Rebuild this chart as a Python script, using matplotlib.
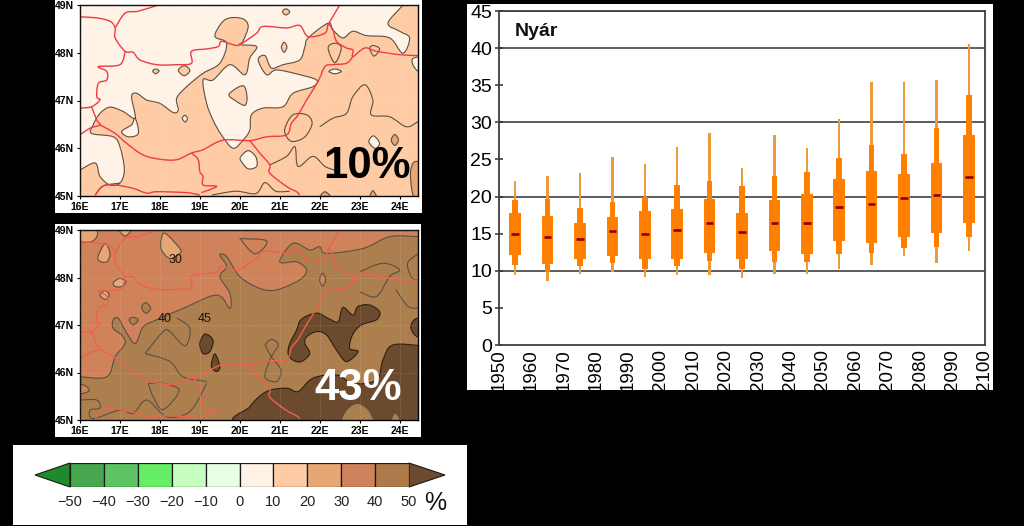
import matplotlib
matplotlib.use("Agg")
import matplotlib.pyplot as plt
from matplotlib.patches import PathPatch, Polygon, Rectangle
from matplotlib.path import Path

plt.rcParams["font.family"] = ["Liberation Sans", "DejaVu Sans"]

W, H = 1024, 526

# boxplot values
years = [1955, 1965, 1975, 1985, 1995, 2005, 2015, 2025,
         2035, 2045, 2055, 2065, 2075, 2085, 2095]
whisker_top = [22.1, 22.8, 23.2, 25.3, 24.4, 26.7, 28.6, 23.9,
               28.3, 26.5, 30.5, 35.4, 35.4, 35.65, 40.5]
mid_top = [19.6, 19.7, 18.5, 19.2, 20.0, 21.6, 22.1, 21.4,
           22.8, 23.3, 25.2, 27.0, 25.7, 29.2, 33.7]
box_top = [17.8, 17.4, 16.4, 17.3, 18.1, 18.3, 19.7, 17.8,
           19.5, 20.3, 22.3, 23.5, 23.1, 24.5, 28.3]
median = [15.0, 14.6, 14.3, 15.3, 14.9, 15.55, 16.45, 15.25,
          16.4, 16.4, 18.65, 19.05, 19.8, 20.15, 22.6]
box_bot = [12.1, 10.9, 11.6, 12.0, 11.6, 11.6, 12.45, 11.6,
           12.6, 12.3, 14.0, 13.7, 14.6, 15.1, 16.4]
mid_bot = [10.8, 9.8, 10.6, 11.1, 10.3, 10.7, 11.3, 10.3,
           11.2, 11.2, 12.3, 12.4, 13.1, 13.2, 14.6]
whisker_bot = [9.4, 8.6, 9.6, 9.9, 9.1, 9.4, 9.4, 9.05,
               9.55, 9.55, 10.2, 10.8, 12.05, 11.1, 12.6]
year_ticks = list(range(1950, 2101, 10))
y_ticks = list(range(0, 46, 5))

# colour bar
cbar_levels = [-50, -40, -30, -20, -10, 0, 10, 20, 30, 40, 50]
cbar_colors = ["#46A84E", "#5CC463", "#66EE66", "#C6FFC0", "#E6FFE6",
               "#FFF2E6", "#FECBA4", "#E6A774", "#D0825A", "#AE7A4A"]
cbar_under = "#1F8A2C"
cbar_over = "#6B4A2E"

# country borders, (lon, lat)
border_north = [(16.0, 48.75), (16.42, 48.73), (16.75, 48.66), (16.88, 48.52), (16.88, 48.31),
                (17.13, 48.03), (17.33, 48.01), (17.5, 47.85), (17.92, 47.75), (18.42, 47.75),
                (18.79, 47.78), (18.79, 48.03), (19.17, 48.08), (19.46, 48.13), (19.54, 48.24),
                (19.83, 48.17), (20.0, 48.17), (20.42, 48.41), (20.58, 48.55), (21.17, 48.52),
                (21.5, 48.57), (21.71, 48.34), (22.13, 48.41), (22.21, 48.59), (22.33, 48.48),
                (22.42, 48.24), (22.67, 48.10), (22.83, 48.06), (22.83, 47.92), (23.13, 48.10),
                (23.42, 48.03), (24.0, 47.96), (24.46, 47.94)]
border_cz = [(16.88, 48.52), (17.13, 48.83), (17.46, 48.87), (17.92, 48.99)]
border_ua = [(22.21, 48.59), (22.5, 49.0)]
border_at = [(17.13, 48.03), (17.0, 47.75), (16.46, 47.71), (16.67, 47.61), (16.67, 47.43),
             (16.46, 47.36), (16.42, 47.08), (16.5, 47.01), (16.29, 46.87), (16.0, 46.84)]
border_si = [(16.29, 46.87), (16.42, 46.59), (16.5, 46.49), (16.25, 46.42), (16.0, 46.28)]
border_south = [(16.5, 46.49), (16.88, 46.31), (17.17, 46.10), (17.58, 45.86), (18.0, 45.77),
                (18.42, 45.76), (18.79, 45.9), (19.08, 45.97), (19.58, 46.17), (20.25, 46.16),
                (20.67, 46.24), (21.17, 46.28), (21.29, 46.52), (21.46, 46.7), (21.67, 47.01),
                (21.96, 47.4), (22.13, 47.71), (22.33, 47.75), (22.67, 47.78), (22.83, 47.92)]
border_hr = [(18.79, 45.9), (18.96, 45.76), (19.0, 45.51), (19.08, 45.41), (19.08, 45.23),
             (19.42, 45.2), (19.04, 45.07)]
border_ba = [(16.38, 45.02), (16.58, 45.21), (16.88, 45.23), (17.33, 45.16), (17.67, 45.06),
             (17.92, 45.09), (18.67, 45.07), (19.0, 45.02)]
border_ro = [(20.25, 46.16), (20.5, 45.9), (20.75, 45.65), (20.75, 45.48), (21.17, 45.2),
             (21.42, 45.09), (21.5, 45.02)]
borders = [border_north, border_cz, border_ua, border_at, border_si,
           border_south, border_hr, border_ba, border_ro]

# upper map: 10-20 % area
top_main = [(16.0, 45.55), (16.38, 45.69), (16.5, 45.41), (16.75, 45.23), (17.0, 45.27), (17.11, 45.55),
            (17.0, 46.03), (16.83, 46.24), (16.29, 46.31), (16.33, 46.49), (16.5, 46.73), (16.75, 46.86),
            (17.08, 46.77), (17.38, 46.63), (17.29, 47.08), (17.42, 47.15), (17.67, 47.01), (18.0, 46.94),
            (18.33, 46.75), (18.46, 46.80), (18.42, 47.05), (18.67, 47.29), (19.08, 47.57), (19.5, 47.78),
            (19.67, 48.20), (19.38, 48.34), (19.54, 48.62), (19.75, 48.73), (20.08, 48.71), (20.21, 48.55),
            (20.08, 48.24), (20.0, 48.17), (20.42, 48.13), (20.25, 47.89), (20.13, 47.54), (19.75, 47.75),
            (19.33, 47.43), (19.08, 47.43), (19.17, 46.94), (19.33, 46.59), (19.54, 46.28), (19.83, 46.0),
            (20.08, 46.17), (20.25, 46.38), (20.29, 46.70), (20.58, 46.84), (21.08, 46.87), (21.33, 47.15),
            (21.83, 47.29), (21.92, 47.43), (21.5, 47.54), (20.92, 47.64), (20.67, 47.54), (20.46, 47.85),
            (20.63, 47.94), (20.79, 47.68), (21.08, 47.75), (21.5, 47.85), (21.63, 48.13), (21.71, 48.31),
            (22.21, 48.62), (22.33, 48.48), (22.58, 48.31), (22.83, 48.45), (23.17, 48.36), (23.75, 48.31),
            (24.08, 47.99), (24.25, 48.31), (24.0, 48.45), (23.71, 48.62), (24.08, 49.0), (24.08, 49.1),
            (24.6, 49.1), (24.6, 49.1), (24.6, 44.9), (24.6, 44.9), (15.9, 44.9), (15.9, 44.9), (15.9, 45.55)]
top_light = [
    [(17.04, 46.35), (17.29, 46.49), (17.38, 46.63), (17.46, 46.31), (17.21, 46.24)],
    [(20.02, 45.82), (20.21, 45.95), (20.4, 45.82), (20.42, 45.62), (20.21, 45.57), (20.04, 45.72)],
    [(23.23, 46.14), (23.35, 46.26), (23.5, 46.1), (23.38, 46.0)],
    [(18.56, 46.63), (18.63, 46.69), (18.69, 46.62), (18.63, 46.55)],
    [(22.23, 47.61), (22.38, 47.66), (22.54, 47.61), (22.38, 47.56)],
    [(24.32, 47.87), (24.6, 47.89), (24.6, 47.56), (24.38, 47.68)],
]
top_peach = [
    [(21.07, 48.86), (21.15, 48.92), (21.25, 48.86), (21.15, 48.79)],
    [(21.04, 48.12), (21.11, 48.22), (21.18, 48.12), (21.11, 48.01)],
    [(17.82, 47.62), (17.89, 47.66), (17.98, 47.62), (17.89, 47.56)],
    [(18.46, 47.63), (18.61, 47.73), (18.75, 47.63), (18.61, 47.52)],
    [(22.21, 48.10), (22.38, 48.20), (22.54, 48.10), (22.38, 47.79)],
    [(23.25, 48.09), (23.35, 48.15), (23.5, 48.08), (23.36, 47.93)],
    [(19.73, 47.13), (20.08, 47.31), (20.18, 47.08), (20.13, 46.9), (19.92, 46.98)],
    [(21.13, 46.42), (21.33, 46.7), (21.67, 46.7), (21.81, 46.52), (21.63, 46.24), (21.33, 46.14), (21.17, 46.24)],
]
top_tan = [
    [(23.79, 46.17), (23.88, 46.29), (23.97, 46.17), (23.88, 46.06)],
    [(24.27, 45.44), (24.36, 45.71), (24.55, 45.62), (24.55, 45.02), (24.36, 44.95)],
    [(22.0, 44.95), (22.13, 45.09), (22.29, 44.95)],
    [(23.25, 44.95), (23.33, 45.11), (23.43, 44.95)],
]
top_lines = [
    [(22.0, 46.45), (22.33, 46.63), (22.67, 46.73), (22.83, 47.08), (23.13, 47.33), (23.33, 47.01),
     (23.29, 46.7), (23.75, 46.66), (24.17, 46.45), (24.46, 46.56)],
    [(20.75, 45.65), (21.17, 45.83), (21.38, 46.03), (21.46, 45.62), (21.83, 45.83), (22.13, 45.62), (22.42, 45.53)],
    [(16.38, 45.02), (16.58, 45.21), (17.0, 45.27)],
    [(19.3, 45.02), (19.9, 45.1), (20.4, 45.05), (20.63, 45.28), (20.9, 45.1), (21.25, 45.1)],
]

# lower map: 30-40 % area, rest is 40-50 %
low_main = [(16.0, 45.91), (16.67, 45.91), (16.88, 46.33), (17.13, 46.61), (17.04, 46.79), (16.83, 46.93),
            (16.83, 47.11), (16.96, 47.14), (17.13, 46.89), (17.38, 46.61), (17.58, 46.96), (17.92, 47.11),
            (18.58, 47.35), (19.42, 47.63), (19.75, 47.35), (19.75, 47.67), (19.5, 48.02), (19.67, 48.23),
            (19.5, 48.47), (19.67, 48.44), (20.0, 48.02), (20.5, 47.77), (20.92, 47.74), (21.5, 47.95),
            (21.67, 48.16), (21.42, 48.33), (21.0, 48.33), (21.33, 48.72), (21.75, 48.58), (22.0, 48.65),
            (22.17, 48.51), (23.08, 48.61), (23.75, 48.86), (24.46, 48.86), (24.6, 48.86), (24.6, 49.1),
            (24.6, 49.1), (15.9, 49.1), (15.9, 49.1), (15.9, 45.91)]
low_dark = [
    [(21.21, 46.4), (21.25, 46.61), (21.42, 46.89), (21.54, 47.12), (21.92, 47.25), (22.21, 47.14),
     (22.46, 47.07), (22.58, 47.37), (22.83, 47.21), (22.96, 47.39), (23.25, 47.42), (23.5, 47.28),
     (23.42, 47.11), (23.04, 47.0), (22.82, 46.79), (22.75, 46.51), (22.96, 46.44), (22.67, 46.23),
     (22.42, 46.47), (22.17, 46.79), (21.92, 46.86), (21.67, 46.75), (21.63, 46.61), (21.75, 46.4),
     (21.54, 46.23), (21.33, 46.26)],
    [(20.13, 44.93), (20.25, 45.28), (20.67, 45.6), (21.17, 45.67), (21.46, 45.6), (21.83, 45.88),
     (22.42, 45.95), (22.83, 45.77), (23.42, 45.84), (23.58, 46.26), (23.83, 46.58), (24.6, 46.56),
     (24.6, 46.56), (24.6, 44.9), (24.6, 44.9)],
    [(24.28, 46.96), (24.38, 47.12), (24.55, 47.11), (24.55, 46.75), (24.38, 46.79)],
    [(19.0, 46.61), (19.13, 46.81), (19.33, 46.68), (19.25, 46.44), (19.08, 46.4)],
    [(19.29, 46.19), (19.38, 46.39), (19.5, 46.12), (19.42, 46.02), (19.31, 46.09)],
]
low_tan = [
    [(22.58, 44.93), (22.67, 45.21), (22.96, 45.35), (23.25, 45.18), (23.29, 44.93)],
    [(23.79, 44.96), (23.88, 45.15), (24.0, 45.0)],
    [(17.54, 47.37), (17.65, 47.47), (17.77, 47.35), (17.65, 47.25)],
    [(17.23, 47.11), (17.33, 47.16), (17.46, 47.11), (17.33, 47.0)],
]
low_light = [
    [(15.9, 49.05), (16.38, 49.05), (16.42, 48.86), (16.25, 48.75), (15.9, 48.77)],
    [(16.46, 48.47), (16.63, 48.71), (16.75, 48.51), (16.67, 48.33), (16.48, 48.35)],
    [(16.96, 49.05), (17.29, 49.05), (17.13, 48.87)],
    [(18.03, 48.79), (18.13, 48.93), (18.5, 48.61), (18.5, 48.51), (18.25, 48.4), (18.04, 48.58)],
    [(16.83, 47.89), (17.0, 47.98), (17.15, 47.91), (17.04, 47.81), (16.88, 47.81)],
    [(16.5, 47.63), (16.63, 47.72), (16.73, 47.63), (16.63, 47.54)],
]
low_salmon = [
    [(15.9, 45.77), (16.17, 45.7), (16.21, 45.6), (15.9, 45.55)],
    [(22.0, 47.95), (22.07, 48.09), (22.15, 47.95), (22.07, 47.82)],
]
low_lines = [
    [(17.63, 46.4), (18.08, 46.86), (18.25, 46.86), (18.63, 46.56), (18.75, 46.93), (18.42, 47.15)],
    [(17.63, 46.4), (18.25, 46.23), (18.58, 45.91), (19.17, 45.81)],
    [(17.71, 45.77), (18.08, 45.77), (18.48, 45.62), (18.08, 45.22), (17.83, 45.49), (17.71, 45.77)],
    [(20.63, 46.58), (20.79, 46.7), (20.96, 46.58), (20.79, 46.33), (20.63, 45.91), (20.92, 45.81),
     (21.03, 46.05), (20.79, 46.33), (20.63, 46.58)],
    [(16.0, 45.42), (16.42, 45.42), (16.5, 45.25), (16.25, 45.21), (16.33, 45.03), (17.0, 45.21),
     (17.33, 45.14), (17.67, 45.42), (18.17, 45.07), (18.75, 45.18), (19.17, 45.77)],
    [(20.0, 48.82), (20.67, 48.77), (20.38, 48.5), (20.0, 48.82)],
    [(23.0, 48.12), (23.58, 48.3), (24.0, 48.16), (23.75, 48.02), (23.42, 47.6), (23.0, 47.7)],
    [(24.46, 48.5), (24.2, 48.3), (24.3, 48.0), (24.46, 47.95)],
    [(24.46, 47.35), (24.2, 47.4), (23.9, 47.75)],
]
low_labels = [("30", 18.38, 48.37), ("40", 18.13, 47.12), ("45", 19.13, 47.12)]

map_lons = list(range(16, 25))
map_lats = list(range(45, 50))


def px_axes(left, top, right, bottom, **kw):
    return fig.add_axes([left / W, 1 - bottom / H, (right - left) / W, (bottom - top) / H], **kw)


def smooth_path(pts, closed=True):
    # bezier curve passing through the listed points (catmull-rom tangents)
    n = len(pts)
    if closed:
        get = lambda i: pts[i % n]
        segs = n
    else:
        get = lambda i: pts[min(max(i, 0), n - 1)]
        segs = n - 1
    verts = [get(0)]
    codes = [Path.MOVETO]
    for i in range(segs):
        p0, p1, p2, p3 = get(i - 1), get(i), get(i + 1), get(i + 2)
        c1 = (p1[0] + (p2[0] - p0[0]) / 6, p1[1] + (p2[1] - p0[1]) / 6)
        c2 = (p2[0] - (p3[0] - p1[0]) / 6, p2[1] - (p3[1] - p1[1]) / 6)
        verts += [c1, c2, p2]
        codes += [Path.CURVE4] * 3
    return Path(verts, codes)


def blob(ax, pts, color, edge="#5A5044"):
    ax.add_patch(PathPatch(smooth_path(pts), facecolor=color, edgecolor=edge, lw=0.8))


def line(ax, pts, color="#5A5044", lw=0.8):
    ax.add_patch(PathPatch(smooth_path(pts, closed=False), facecolor="none", edgecolor=color, lw=lw))


def setup_map(ax, bg):
    ax.set_facecolor(bg)
    ax.set_xlim(16, 24.46)
    ax.set_ylim(45, 49)
    ax.set_xticks(map_lons, [f"{v}E" for v in map_lons])
    ax.set_yticks(map_lats, [f"{v}N" for v in map_lats])
    ax.tick_params(length=2.5, width=0.8, pad=1.5, labelsize=7.5)
    for lab in ax.get_xticklabels() + ax.get_yticklabels():
        lab.set_fontweight("bold")
    for s in ax.spines.values():
        s.set_linewidth(1.0)


def draw_borders(ax, color):
    for b in borders:
        line(ax, b, color=color, lw=1.0)
    ax.grid(True, ls=":", lw=0.5, color="#FFFFFF", alpha=0.3)
    ax.set_axisbelow(False)


fig = plt.figure(figsize=(W / 100, H / 100), dpi=100, facecolor="black")
bg = fig.add_axes([0, 0, 1, 1])
bg.set_xlim(0, W)
bg.set_ylim(H, 0)
bg.axis("off")
bg.add_patch(Rectangle((55, -2), 367, 215, color="white", lw=0))
bg.add_patch(Rectangle((55, 224), 366, 213, color="white", lw=0))
bg.add_patch(Rectangle((13, 445), 454, 80, color="white", lw=0))
panel = Rectangle((467, 4), 526, 386, color="white", lw=0)
bg.add_patch(panel)

# upper map
ax1 = px_axes(80, 5, 418, 196)
setup_map(ax1, cbar_colors[5])
blob(ax1, top_main, cbar_colors[6])
for p in top_light:
    blob(ax1, p, cbar_colors[5])
for p in top_peach:
    blob(ax1, p, cbar_colors[6])
for p in top_tan:
    blob(ax1, p, cbar_colors[7])
for p in top_lines:
    line(ax1, p)
draw_borders(ax1, "#EE3B45")
ax1.text(367, 166, "10%", transform=bg.transData, ha="center", va="center",
         fontsize=31.5, fontweight="bold", color="black")

# lower map
ax2 = px_axes(80, 230, 418, 420)
setup_map(ax2, "#AE7F4E")
blob(ax2, low_main, "#D0825A")
for p in low_dark:
    blob(ax2, p, cbar_over, edge="#2E2012")
for p in low_tan:
    blob(ax2, p, "#AE7F4E")
for p in low_light:
    blob(ax2, p, cbar_colors[7])
for p in low_salmon:
    blob(ax2, p, "#D0825A")
for p in low_lines:
    line(ax2, p)
draw_borders(ax2, "#F0604C")
for txt, lon, lat in low_labels:
    ax2.text(lon, lat, txt, ha="center", va="center", fontsize=9, color="#1A1208")
ax2.text(358, 388, "43%", transform=bg.transData, ha="center", va="center",
         fontsize=31.5, fontweight="bold", color="white")

# colour bar
cax = px_axes(70, 463, 409, 487)
for i, c in enumerate(cbar_colors):
    cax.bar(cbar_levels[i], 1, width=10, align="edge", color=c, edgecolor="#1A1A1A", lw=0.9)
cax.set_xlim(cbar_levels[0], cbar_levels[-1])
cax.set_ylim(0, 1)
cax.axis("off")
bg.add_patch(Polygon([(70, 463), (70, 487), (35, 475)], facecolor=cbar_under, edgecolor="#1A1A1A", lw=0.8))
bg.add_patch(Polygon([(409, 463), (409, 487), (445, 475)], facecolor=cbar_over, edgecolor="#1A1A1A", lw=0.8))
for v in cbar_levels:
    cax.text(v, -0.62, str(v).replace("-", "\u2212"), ha="center", va="center", fontsize=10.5, color="#222222")
bg.text(435, 503, "%", ha="center", va="center", fontsize=18, color="#111111")

# boxplots
ax = px_axes(499, 11, 985, 345)
ax.set_facecolor("white")
for v in y_ticks[2::2] + [45]:
    ax.axhline(v, color="#303030", lw=1.1, zorder=1)
for i, yr in enumerate(years):
    ax.bar(yr, whisker_top[i] - whisker_bot[i], 0.8, bottom=whisker_bot[i], color="#EC9A3C", zorder=2)
    ax.bar(yr, mid_top[i] - mid_bot[i], 1.75, bottom=mid_bot[i], color="#FF8000", zorder=3)
    ax.bar(yr, box_top[i] - box_bot[i], 3.6, bottom=box_bot[i], color="#FF8000", zorder=4)
ax.hlines(median, [y - 1.2 for y in years], [y + 1.2 for y in years], color="#8B0000", lw=1.9, zorder=5)
ax.set_xlim(1950, 2100)
ax.set_ylim(0, 45)
ax.set_xticks(year_ticks)
ax.set_yticks(y_ticks)
ax.tick_params(axis="y", direction="inout", length=6, width=1.1, color="#303030", labelsize=14, pad=2)
ax.tick_params(axis="x", length=0, labelsize=13.5, pad=3, labelrotation=90)
for lab in ax.get_xticklabels():
    lab.set_clip_on(True)
    lab.set_clip_box(panel.get_window_extent())
    lab.set_va("top")
for s in ax.spines.values():
    s.set_color("#404040")
    s.set_linewidth(1.3)
ax.text(515, 31, "Nyár", transform=bg.transData, ha="left", va="center", fontsize=14, fontweight="bold", color="#111111")

fig.savefig("out.png", dpi=100, facecolor="black")
